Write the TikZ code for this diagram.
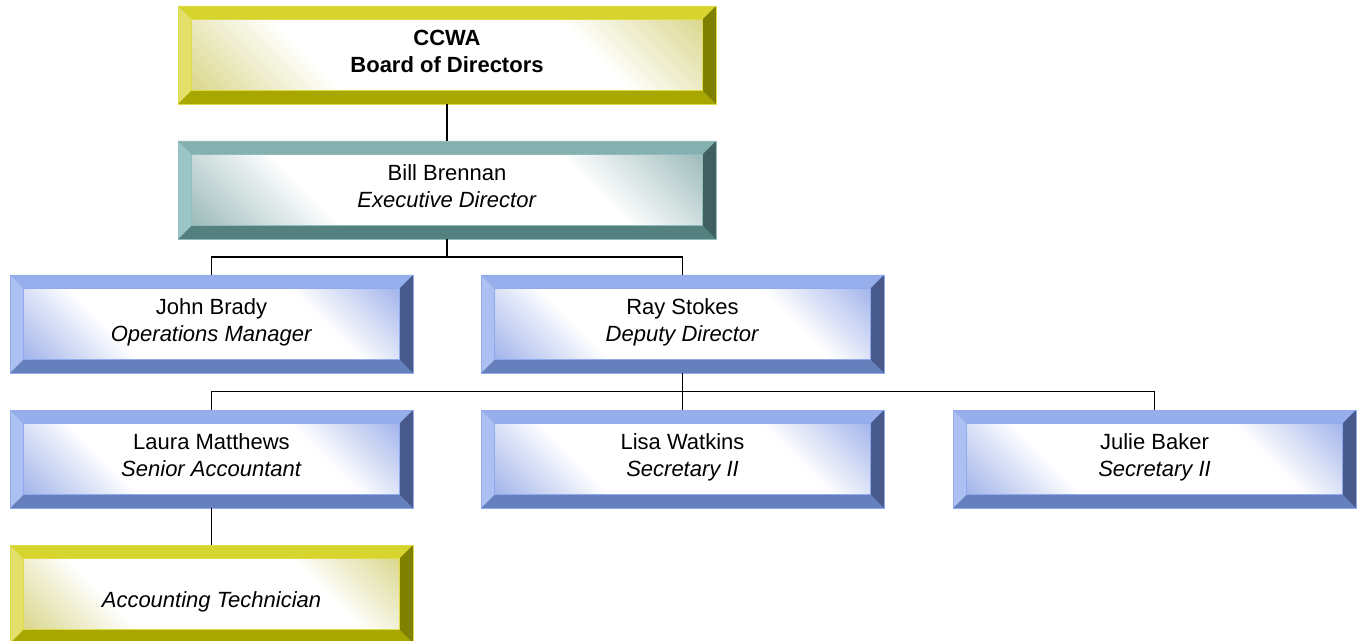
\documentclass[tikz,border=0pt]{standalone}
\usepackage{fontspec}
\setmainfont{Liberation Sans}
\usetikzlibrary{positioning,calc}
\definecolor{yelTop}{RGB}{215,213,45}
\definecolor{yelLeft}{RGB}{226,224,104}
\definecolor{yelRight}{RGB}{128,128,0}
\definecolor{yelBot}{RGB}{168,166,0}
\definecolor{yelMid}{RGB}{205,200,100}
\definecolor{yelLine}{RGB}{222,220,70}
\definecolor{tealTop}{RGB}{132,176,176}
\definecolor{tealLeft}{RGB}{156,197,197}
\definecolor{tealRight}{RGB}{64,96,96}
\definecolor{tealBot}{RGB}{84,128,128}
\definecolor{tealMid}{RGB}{122,162,162}
\definecolor{tealLine}{RGB}{145,188,188}
\definecolor{blueTop}{RGB}{150,174,236}
\definecolor{blueLeft}{RGB}{172,192,242}
\definecolor{blueRight}{RGB}{72,90,140}
\definecolor{blueBot}{RGB}{102,128,190}
\definecolor{blueMid}{RGB}{128,152,226}
\definecolor{blueLine}{RGB}{145,170,238}
\pgfdeclarehorizontalshading{yelShade}{100bp}{color(0bp)=(yelMid); color(8bp)=(yelMid); color(33bp)=(white); color(68bp)=(white); color(92bp)=(yelMid); color(100bp)=(yelMid)}
\pgfdeclarehorizontalshading{tealShade}{100bp}{color(0bp)=(tealMid); color(8bp)=(tealMid); color(33bp)=(white); color(68bp)=(white); color(92bp)=(tealMid); color(100bp)=(tealMid)}
\pgfdeclarehorizontalshading{blueShade}{100bp}{color(0bp)=(blueMid); color(8bp)=(blueMid); color(33bp)=(white); color(68bp)=(white); color(92bp)=(blueMid); color(100bp)=(blueMid)}
\tikzset{
    bevelbox/.style={
        draw=#1Line,line width=.6pt,outer sep=0pt,inner sep=0pt,
        minimum width=302.25pt,minimum height=73.5pt,
        align=center,font=\fontsize{16.5}{20.25}\selectfont,
        path picture={
            \coordinate (bsw) at (path picture bounding box.south west);
            \coordinate (bne) at (path picture bounding box.north east);
            \coordinate (bnw) at (bsw|-bne);
            \coordinate (bse) at (bne|-bsw);
            \fill[#1Bot] (bsw) rectangle (bne);
            \fill[#1Top] (bnw) -- (bne) -- ([shift={(-10pt,-10pt)}]bne) -- ([shift={(10pt,-10pt)}]bnw) -- cycle;
            \fill[#1Left] (bnw) -- ([shift={(10pt,-10pt)}]bnw) -- ([shift={(10pt,10pt)}]bsw) -- (bsw) -- cycle;
            \fill[#1Right] (bne) -- ([shift={(-10pt,-10pt)}]bne) -- ([shift={(-10pt,10pt)}]bse) -- (bse) -- cycle;
            \shade[shading=#1Shade,shading angle=45,draw=#1Line,line width=.4pt]
                ([shift={(10pt,10pt)}]bsw) rectangle ([shift={(-10pt,-10pt)}]bne);
        }
    },
    link/.style={draw=black,line width=1.4pt}
}
\begin{document}
\begin{tikzpicture}[x=0.75pt,y=-0.75pt]
\useasboundingbox (0,0) rectangle (1363,641);
% top of the chart
\node[bevelbox=yel,minimum width=403.5pt] (board) at (447,55) {\textbf{CCWA}\\\textbf{Board of Directors}\\[-14.25pt]};
\node[bevelbox=teal,minimum width=403.5pt,below=27.75pt of board] (exec) {Bill Brennan\\\textit{Executive Director}\\[-14.25pt]};
% managers
\node[bevelbox=blue] (john) at (211.5,324) {John Brady\\\textit{Operations Manager}\\[-14.25pt]};
\node[bevelbox=blue,right=51pt of john] (ray) {Ray Stokes\\\textit{Deputy Director}\\[-14.25pt]};
% staff
\node[bevelbox=blue,below=27.75pt of john] (laura) {Laura Matthews\\\textit{Senior Accountant}\\[-14.25pt]};
\node[bevelbox=blue,right=51pt of laura] (lisa) {Lisa Watkins\\\textit{Secretary II}\\[-14.25pt]};
\node[bevelbox=blue,right=51.75pt of lisa] (julie) {Julie Baker\\\textit{Secretary II}\\[-14.25pt]};
\node[bevelbox=yel,text height=20pt,text depth=0pt,below=27.75pt of laura] (tech) {\textit{Accounting Technician}};
% connectors
\draw[link] (board) -- (exec);
\draw[link] (exec.south) -- ++(0,18) -| (john.north);
\draw[link] (exec.south) -- ++(0,18) -| (ray.north);
\draw[link] (ray.south) -- ++(0,18.5) -| (laura.north);
\draw[link] (ray.south) -- (lisa.north);
\draw[link] (ray.south) -- ++(0,18.5) -| (julie.north);
\draw[link] (laura) -- (tech);
\end{tikzpicture}
\end{document}
